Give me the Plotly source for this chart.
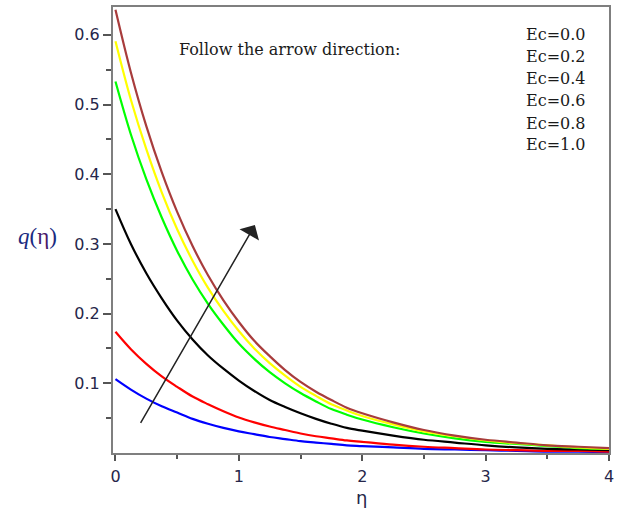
import plotly.graph_objects as go

eta = [0.0, 0.125, 0.25, 0.375, 0.5, 0.625, 0.75, 0.875, 1.0, 1.125, 1.25, 1.375, 1.5,
       1.625, 1.75, 1.875, 2.0, 2.25, 2.5, 2.75, 3.0, 3.25, 3.5, 3.75, 4.0]

q_ec00 = [0.106, 0.091, 0.078, 0.067, 0.058, 0.049, 0.042, 0.036, 0.031, 0.027, 0.023, 0.020, 0.017,
          0.015, 0.013, 0.011, 0.010, 0.008, 0.006, 0.005, 0.004, 0.003, 0.002, 0.002, 0.001]
q_ec02 = [0.174, 0.149, 0.128, 0.110, 0.095, 0.081, 0.070, 0.060, 0.051, 0.044, 0.038, 0.033, 0.028,
          0.024, 0.021, 0.018, 0.016, 0.012, 0.009, 0.007, 0.005, 0.004, 0.003, 0.003, 0.002]
q_ec04 = [0.350, 0.300, 0.258, 0.222, 0.190, 0.163, 0.140, 0.121, 0.104, 0.089, 0.076, 0.066, 0.057,
          0.049, 0.042, 0.036, 0.032, 0.025, 0.019, 0.015, 0.011, 0.008, 0.006, 0.005, 0.004]
q_ec06 = [0.533, 0.457, 0.393, 0.338, 0.290, 0.249, 0.214, 0.184, 0.157, 0.135, 0.116, 0.100, 0.086,
          0.074, 0.063, 0.055, 0.048, 0.037, 0.028, 0.021, 0.016, 0.013, 0.010, 0.007, 0.006]
q_ec08 = [0.591, 0.507, 0.436, 0.374, 0.321, 0.276, 0.237, 0.204, 0.175, 0.150, 0.129, 0.111, 0.095,
          0.082, 0.070, 0.061, 0.053, 0.041, 0.031, 0.024, 0.018, 0.014, 0.011, 0.008, 0.006]
q_ec10 = [0.636, 0.546, 0.469, 0.403, 0.346, 0.297, 0.255, 0.219, 0.188, 0.161, 0.139, 0.119, 0.102,
          0.088, 0.076, 0.065, 0.057, 0.044, 0.033, 0.025, 0.019, 0.015, 0.011, 0.009, 0.007]

series = [q_ec00, q_ec02, q_ec04, q_ec06, q_ec08, q_ec10]
colors = ["#0000ff", "#ff0000", "#000000", "#00ff00", "#ffff00", "#a83c3c"]
ec_labels = ["Ec=0.0", "Ec=0.2", "Ec=0.4", "Ec=0.6", "Ec=0.8", "Ec=1.0"]

x_ticks = [0, 1, 2, 3, 4]
y_ticks = [0.1, 0.2, 0.3, 0.4, 0.5, 0.6]
y_ticktext = ["0.1", "0.2", "0.3", "0.4", "0.5", "0.6"]

arrow_tail = (0.197, 0.041)
arrow_tip = (1.13, 0.327)

fig = go.Figure()
for ys, c, lab in zip(series, colors, ec_labels):
    fig.add_trace(go.Scatter(x=eta, y=ys, mode="lines", name=lab,
                             line=dict(color=c, width=2.2, shape="spline", smoothing=1.0,
                                       simplify=False),
                             showlegend=False))

axis_common = dict(showline=True, linecolor="#7f7f7f", linewidth=2, mirror=True,
                   showgrid=False, zeroline=False, ticks="outside", tickcolor="#555",
                   tickwidth=1.5,
                   tickfont=dict(family="DejaVu Sans", size=16, color="#26264a"))

fig.update_xaxes(range=[-0.02, 4.0], tickvals=x_ticks, ticklen=6,
                 ticklabelstandoff=2,
                 minor=dict(tickvals=[0.5, 1.5, 2.5, 3.5], ticklen=4, ticks="outside",
                            tickcolor="#555", tickwidth=1.5),
                 **axis_common)
fig.update_yaxes(range=[0, 0.64], tickvals=y_ticks, ticktext=y_ticktext, ticklen=8,
                 minor=dict(tickvals=[0.05, 0.15, 0.25, 0.35, 0.45, 0.55], ticklen=5,
                            ticks="outside", tickcolor="#555", tickwidth=1.5),
                 **axis_common)

ann = []
ann.append(dict(x=arrow_tip[0], y=arrow_tip[1], ax=arrow_tail[0], ay=arrow_tail[1],
                xref="x", yref="y", axref="x", ayref="y", showarrow=True,
                arrowhead=1, arrowsize=2.5, arrowwidth=1.5, arrowcolor="#222", text=""))
ann.append(dict(x=0.13, y=0.904, xref="paper", yref="paper", xanchor="left", yanchor="middle",
                text="Follow the arrow direction:", showarrow=False,
                font=dict(family="DejaVu Serif", size=16, color="#1a1a1a")))
legend_y = [33, 55, 77, 99, 122, 143]
for lab, py in zip(ec_labels, legend_y):
    ann.append(dict(x=0.828, y=(453 - py) / 448, xref="paper", yref="paper",
                    xanchor="left", yanchor="middle", text=lab, showarrow=False,
                    font=dict(family="DejaVu Serif", size=16, color="#1a1a1a")))
ann.append(dict(x=0.502, y=(453 - 498) / 448, xref="paper", yref="paper",
                xanchor="center", yanchor="middle", text="η", showarrow=False,
                font=dict(family="DejaVu Sans", size=18, color="#26264a")))
ann.append(dict(x=(37 - 113) / 500, y=(453 - 236) / 448, xref="paper", yref="paper",
                xanchor="center", yanchor="middle",
                text="<i>q</i>(<span style='color:#4a1a6a'>η</span>)", showarrow=False,
                font=dict(family="Liberation Serif", size=23, color="#1a2a80")))

fig.update_layout(width=619, height=510, margin=dict(l=113, r=6, t=5, b=57),
                  plot_bgcolor="white", paper_bgcolor="white", annotations=ann)

fig.write_html("out.html")
